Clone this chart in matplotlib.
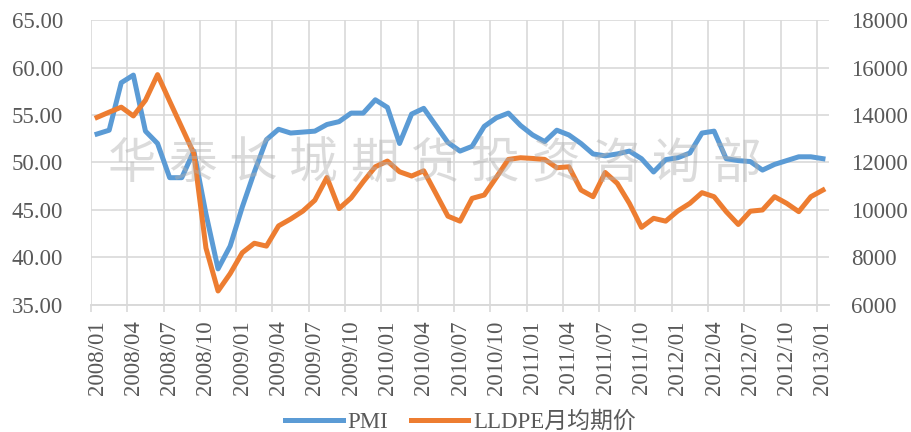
import numpy as np
import matplotlib
matplotlib.use("Agg")
import matplotlib.pyplot as plt
from matplotlib.ticker import FixedLocator, FormatStrFormatter

BLUE = "#5B9BD5"
ORANGE = "#ED7D31"
GRID = "#D9D9D9"
TXT = "#595959"

plt.rcParams["font.family"] = ["Liberation Serif", "Noto Sans CJK SC"]

# monthly, 2008/01 .. 2013/01
months = [f"{y}/{m:02d}" for y in range(2008, 2014) for m in range(1, 13)][:61]

pmi = [53.0, 53.4, 58.4, 59.2, 53.3, 52.0, 48.4, 48.4, 51.2, 44.6, 38.8, 41.2,
       45.3, 49.0, 52.4, 53.5, 53.1, 53.2, 53.3, 54.0, 54.3, 55.2, 55.2, 56.6,
       55.8, 52.0, 55.1, 55.7, 53.9, 52.1, 51.2, 51.7, 53.8, 54.7, 55.2, 53.9,
       52.9, 52.2, 53.4, 52.9, 52.0, 50.9, 50.7, 50.9, 51.2, 50.4, 49.0, 50.3,
       50.5, 51.0, 53.1, 53.3, 50.4, 50.2, 50.1, 49.2, 49.8, 50.2, 50.6, 50.6,
       50.4]

lldpe = [13900, 14120, 14330, 13960, 14620, 15700, 14580, 13480, 12380, 8400, 6590, 7320,
         8200, 8600, 8480, 9330, 9620, 9950, 10410, 11370, 10060, 10510, 11190, 11820,
         12060, 11610, 11430, 11650, 10700, 9740, 9530, 10490, 10630, 11370, 12130, 12200,
         12170, 12130, 11780, 11820, 10840, 10560, 11580, 11120, 10280, 9270, 9650, 9530,
         9960, 10280, 10730, 10560, 9930, 9390, 9950, 10000, 10560, 10280, 9930, 10560,
         10840]

x = np.arange(len(months))

fig = plt.figure(figsize=(9.12, 4.32), dpi=100)
ax = fig.add_axes([0.0998, 0.294, 0.8092, 0.6597])
ax2 = ax.twinx()

# watermark
wm = "华泰长城期货投资咨询部"
for i, ch in enumerate(wm):
    fig.text((132 + i * 60.5) / 912, 1 - 164 / 432, ch, fontsize=35, color="#b0b0b0",
             alpha=0.45, ha="center", va="center", family="Noto Sans CJK SC",
             fontweight="light", zorder=0)

l1, = ax.plot(x, pmi, color=BLUE, lw=3.6, solid_joinstyle="round", zorder=3, label="PMI")
l2, = ax2.plot(x, lldpe, color=ORANGE, lw=3.6, solid_joinstyle="round", zorder=3,
               label="LLDPE月均期价")

ax.set_xlim(-0.5, len(months) - 0.5)
ax.set_ylim(35, 65)
ax2.set_ylim(6000, 18000)
ax.set_yticks(np.arange(35, 65.1, 5))
ax2.set_yticks(np.arange(6000, 18001, 2000))
ax.yaxis.set_major_formatter(FormatStrFormatter("%.2f"))

ax.set_xticks(x[::3])
ax.set_xticklabels(months[::3], rotation=90)
ax.xaxis.set_minor_locator(FixedLocator(np.arange(-0.5, len(months), 3)))

ax.grid(True, which="minor", axis="x", color=GRID, lw=1.2)
ax.grid(True, which="major", axis="y", color=GRID, lw=1.2)
ax.set_axisbelow(True)

for a in (ax, ax2):
    for s in ("top", "left", "right"):
        a.spines[s].set_visible(False)
    a.spines["bottom"].set_color(GRID)
    a.spines["bottom"].set_linewidth(1.2)
    a.patch.set_visible(False)

ax.tick_params(axis="x", which="major", length=0, pad=11, labelsize=16.5, labelcolor=TXT)
ax.tick_params(axis="x", which="minor", length=5, width=1.2, color=GRID)
ax.tick_params(axis="y", length=0, pad=20, labelsize=16.5, labelcolor=TXT)
ax2.tick_params(axis="y", length=0, pad=16, labelsize=16.5, labelcolor=TXT)

fig.legend(handles=[l1, l2], loc="center", bbox_to_anchor=(0.505, 1 - 422 / 432),
           ncol=2, frameon=False, fontsize=16.5, labelcolor=TXT, handlelength=2.5,
           handletextpad=0.2, columnspacing=1.0)

fig.savefig("out.png", dpi=100)
